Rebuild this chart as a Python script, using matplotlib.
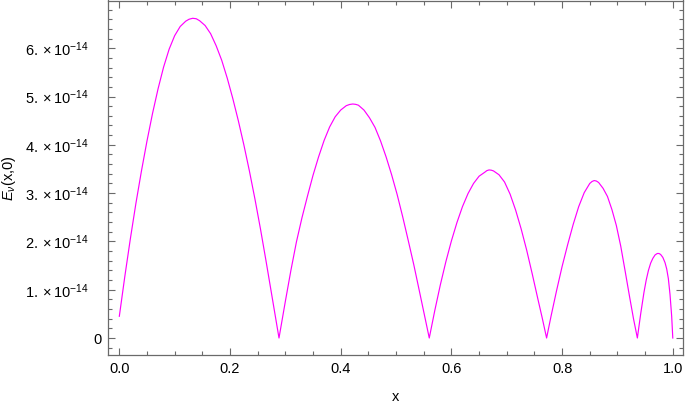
import matplotlib
matplotlib.use('Agg')
import matplotlib.pyplot as plt
from matplotlib.ticker import MultipleLocator
from matplotlib.transforms import ScaledTranslation

plt.rcParams['font.family'] = ['Liberation Sans', 'DejaVu Sans']
plt.rcParams['mathtext.fontset'] = 'custom'
plt.rcParams['mathtext.rm'] = 'Liberation Sans'
plt.rcParams['mathtext.it'] = 'Liberation Sans:italic'
plt.rcParams['mathtext.bf'] = 'Liberation Sans:bold'

# values (y in units of 1e-14)
x_vals = [
    0.000, 0.010, 0.020, 0.030, 0.040, 0.050, 0.060, 0.070, 0.080, 0.090,
    0.100, 0.110, 0.120, 0.126, 0.1326, 0.139, 0.145, 0.155, 0.165, 0.175,
    0.185, 0.195, 0.205, 0.215, 0.225, 0.235, 0.245, 0.255, 0.265, 0.275,
    0.2885,
    0.300, 0.310, 0.320, 0.330, 0.340, 0.350, 0.360, 0.370, 0.380, 0.390,
    0.400, 0.410, 0.416, 0.4217, 0.427, 0.432, 0.442, 0.452, 0.462, 0.472,
    0.482, 0.492, 0.502, 0.512, 0.522, 0.532, 0.542, 0.551, 0.560,
    0.570, 0.580, 0.590, 0.600, 0.610, 0.620, 0.630, 0.640, 0.650, 0.660,
    0.664, 0.668, 0.672, 0.676, 0.686, 0.696, 0.706, 0.716, 0.726, 0.736,
    0.746, 0.756, 0.764, 0.772,
    0.780, 0.790, 0.800, 0.810, 0.820, 0.830, 0.840, 0.850, 0.854, 0.858,
    0.862, 0.866, 0.874, 0.882, 0.890, 0.898, 0.906, 0.914, 0.922, 0.929,
    0.936,
    0.942, 0.948, 0.952, 0.956, 0.960, 0.964, 0.968, 0.972, 0.975, 0.978,
    0.982, 0.986, 0.989, 0.992, 0.995, 0.998, 1.000,
]
e_vals = [
    0.45, 1.28, 2.06, 2.79, 3.46, 4.08, 4.65, 5.16, 5.61, 5.98,
    6.26, 6.45, 6.56, 6.60, 6.62, 6.61, 6.57, 6.47, 6.30, 6.05,
    5.75, 5.38, 4.96, 4.50, 4.00, 3.46, 2.88, 2.26, 1.60, 0.92,
    0.00,
    0.76, 1.40, 1.99, 2.49, 2.94, 3.37, 3.75, 4.09, 4.37, 4.58,
    4.72, 4.81, 4.835, 4.845, 4.838, 4.82, 4.72, 4.56, 4.36, 4.08,
    3.75, 3.38, 2.97, 2.51, 2.02, 1.52, 0.98, 0.49, 0.00,
    0.57, 1.10, 1.58, 2.01, 2.39, 2.72, 2.99, 3.20, 3.35, 3.43,
    3.465, 3.48, 3.475, 3.46, 3.38, 3.23, 2.98, 2.65, 2.26, 1.82,
    1.33, 0.82, 0.42, 0.00,
    0.45, 0.98, 1.48, 1.93, 2.35, 2.72, 3.01, 3.20, 3.24, 3.26,
    3.25, 3.22, 3.10, 2.93, 2.66, 2.33, 1.90, 1.38, 0.85, 0.40,
    0.00,
    0.50, 0.95, 1.20, 1.40, 1.55, 1.65, 1.72, 1.75, 1.75, 1.73,
    1.67, 1.56, 1.43, 1.23, 0.90, 0.45, 0.00,
]
scale = 1e-14

x_ticks = [0.0, 0.2, 0.4, 0.6, 0.8, 1.0]
x_tick_labels = ['0.0', '0.2', '0.4', '0.6', '0.8', '1.0']
y_ticks = [0, 1, 2, 3, 4, 5, 6]
y_tick_labels = ['0'] + [r'$%d.\times10^{-14}$' % k for k in range(1, 7)]

frame_col = '#6a6a6a'

fig = plt.figure(figsize=(6.85, 4.05), dpi=100)
ax = fig.add_axes([107.7 / 685, 1 - 355.3 / 405, 575.6 / 685, 354.8 / 405])

ax.plot(x_vals, [v * scale for v in e_vals], color='#ff00ff', lw=0.85)

ax.set_xlim(-0.021, 1.019)
ax.set_ylim(-0.358 * scale, 6.988 * scale)

ax.set_xticks(x_ticks)
ax.set_xticklabels(x_tick_labels)
ax.xaxis.set_minor_locator(MultipleLocator(0.05))
ax.set_yticks([t * scale for t in y_ticks])
ax.set_yticklabels(y_tick_labels)
ax.yaxis.set_minor_locator(MultipleLocator(0.2 * scale))

ax.tick_params(which='both', direction='in', top=True, right=True,
               color=frame_col, width=0.8, labelsize=10.5, labelcolor='black')
ax.tick_params(which='major', length=4.8, pad=4.5)
ax.tick_params(which='minor', length=2.9)

for s in ax.spines.values():
    s.set_color(frame_col)
    s.set_linewidth(0.9)

shift = ScaledTranslation(-9 / 72, 0, fig.dpi_scale_trans)
for lab in ax.get_yticklabels():
    if lab.get_text() != '0':
        lab.set_transform(lab.get_transform() + shift)

ax.set_xlabel('x', fontsize=10.5)
ax.xaxis.set_label_coords(0.5, -0.098)
ax.set_ylabel(r'$E_{\nu}$(x,0)', fontsize=10.5)
ax.yaxis.set_label_coords(-0.155, 0.5)

fig.savefig('out.png', dpi=100)
